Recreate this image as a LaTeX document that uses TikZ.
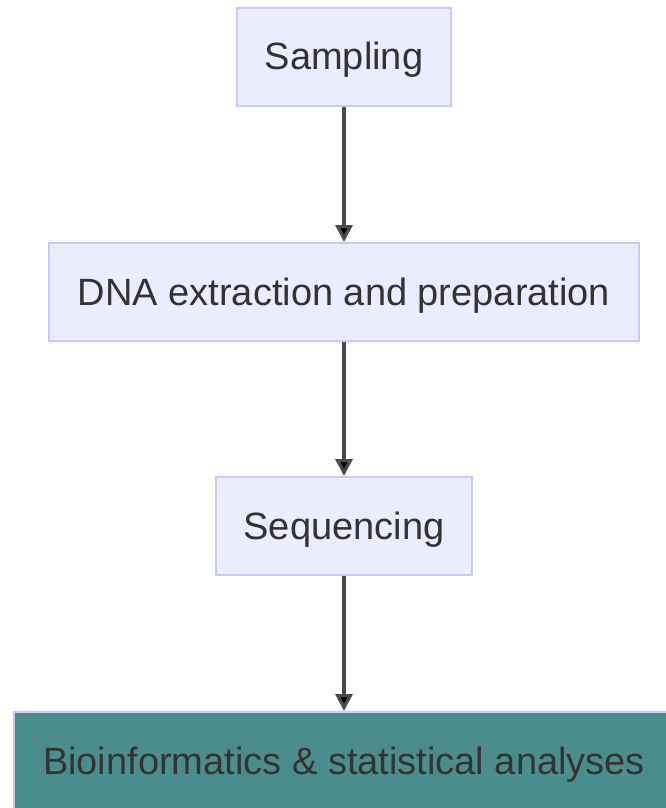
\documentclass[tikz,border=0pt]{standalone}
\usepackage{fontspec}
\setmainfont{Liberation Sans}
\usetikzlibrary{arrows.meta}
\definecolor{boxfill}{HTML}{ECECFF}
\definecolor{boxline}{HTML}{C9C9F7}
\definecolor{tealfill}{HTML}{4B8D8D}
\definecolor{txt}{HTML}{333333}
\definecolor{linec}{HTML}{4A4A4A}
\tikzset{
  stepbox/.style={draw=boxline, fill=boxfill, line width=2pt, text=txt, inner sep=0pt,
    text height=26pt, text depth=0pt,
    font=\fontsize{38}{45}\selectfont},
  flow/.style={draw=linec, line width=3.2pt, -{Triangle[length=17pt,width=17pt,fill=black]}},
}
\begin{document}
\begin{tikzpicture}[x=1pt,y=-1pt]
\useasboundingbox (0,0) rectangle (666,808);
\node[stepbox, minimum width=214pt, minimum height=98pt] (s) at (344,57) {Sampling};
\node[stepbox, minimum width=590pt, minimum height=98pt] (d) at (344,292) {DNA extraction and preparation};
\node[stepbox, minimum width=256pt, minimum height=98pt] (q) at (344,526) {Sequencing};
\node[stepbox, fill=tealfill, minimum width=660pt, minimum height=98pt] (b) at (344,761) {Bioinformatics \& statistical analyses};
\draw[flow] (s) -- (d);
\draw[flow] (d) -- (q);
\draw[flow] (q) -- (b);
\end{tikzpicture}
\end{document}
